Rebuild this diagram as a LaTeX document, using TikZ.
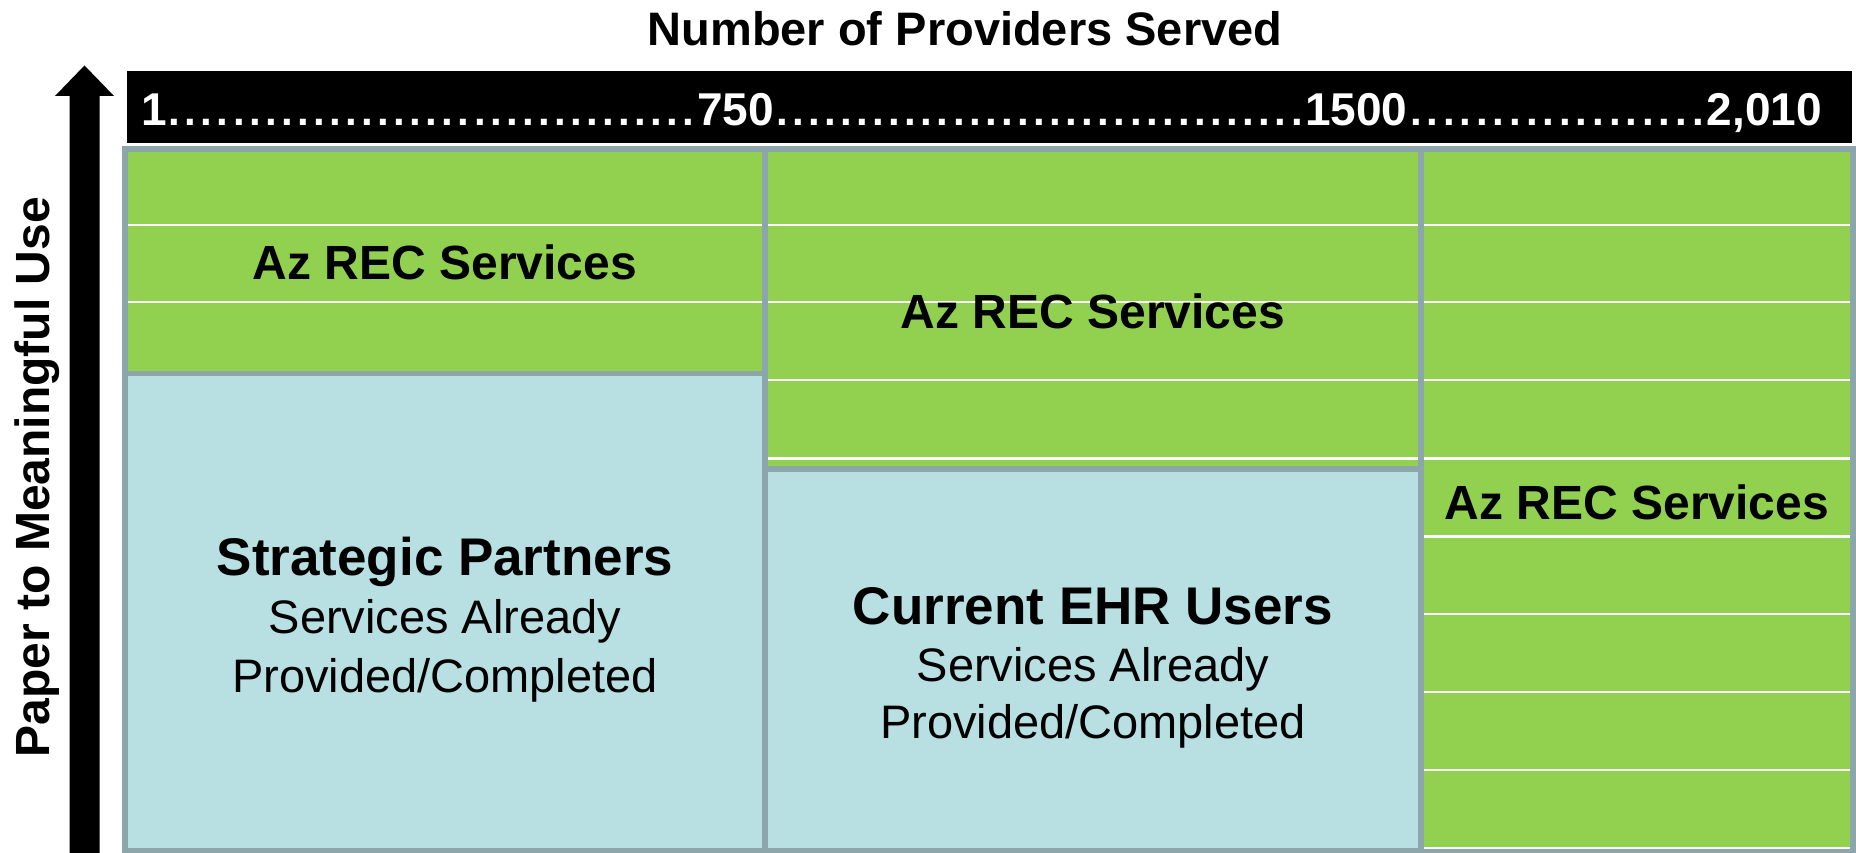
\documentclass[tikz,border=0pt]{standalone}
\usepackage{fontspec}
\setmainfont{Liberation Sans}
\definecolor{recgreen}{HTML}{92D050}
\definecolor{recblue}{HTML}{B8DFE2}
\definecolor{recgray}{HTML}{8CA6AB}
\newcommand\dotrun[1]{\hbox to #1pt{\xleaders\hbox to 16pt{\hss.\hss}\hfill}}
\begin{document}
\begin{tikzpicture}[x=1pt,y=-1pt,
  cell/.style={draw=recgray, line width=5.5pt, inner sep=0pt, outer sep=0pt, anchor=north west},
  greencell/.style={cell, fill=recgreen},
  bluecell/.style={cell, fill=recblue},
  rowline/.style={draw=white, line width=2.7pt},
  bartext/.style={font=\fontsize{46}{50}\selectfont\bfseries, text=white, inner sep=0pt, outer sep=0pt, anchor=base west},
  bardots/.style={font=\fontsize{42}{46}\selectfont\bfseries, text=white, inner sep=0pt, outer sep=0pt, anchor=base west},
  heading/.style={font=\fontsize{48}{52}\selectfont\bfseries, inner sep=0pt, anchor=base},
  bighead/.style={font=\fontsize{53}{58}\selectfont\bfseries, inner sep=0pt, anchor=base},
  plain/.style={font=\fontsize{47}{52}\selectfont, inner sep=0pt, anchor=base}
]
\useasboundingbox (0,0) rectangle (1856,853);
\fill[white] (0,0) rectangle (1856,853);

% title
\node[font=\fontsize{47}{52}\selectfont\bfseries, inner sep=0pt, anchor=base] (title) at (965,46) {Number of Providers Served};

% vertical arrow and label
\fill[black] (69.5,853) -- (69.5,96) -- (55,96) -- (84.5,65.5) -- (114,96) -- (99.5,96) -- (99.5,853) -- cycle;
\node[rotate=90, font=\fontsize{48}{52}\selectfont\bfseries, inner sep=0pt, anchor=base] (ylab) at (49,477) {Paper to Meaningful Use};

% black scale bar
\node[fill=black, minimum width=1725.5pt, minimum height=72pt, inner sep=0pt, outer sep=0pt, anchor=north west] (bar) at (126.5,71) {};
\node[bartext] (n1) at (141,126) {1};
\node[bardots] (d1) at (n1.base east) {\dotrun{530}};
\node[bartext] (n750) at (697,126) {750};
\node[bardots] (d2) at (n750.base east) {\dotrun{531}};
\node[bartext] (n1500) at (1305,126) {1500};
\node[bardots] (d3) at (n1500.base east) {\dotrun{299}};
\node[bartext, anchor=base east] (n2010) at (1822,126) {2,010};

% cells
\node[greencell, minimum width=640pt, minimum height=224.5pt] (lg) at (125,149) {};
\node[bluecell,  minimum width=640pt, minimum height=477.5pt] (lb) at (125,373.5) {};
\node[greencell, minimum width=656pt, minimum height=320pt] (mg) at (765,149) {};
\node[bluecell,  minimum width=656pt, minimum height=382pt] (mb) at (765,469) {};
\node[greencell, minimum width=432pt, minimum height=702pt] (rg) at (1421,149) {};

% white row lines
\foreach \yy in {225,302}
  \draw[rowline] (127.75,\yy) -- (762.25,\yy);
\foreach \yy in {225,302,380,458.3}
  \draw[rowline] (767.75,\yy) -- (1418.25,\yy);
\foreach \yy in {225,302,380,458.3,536.3,614,692,770,848}
  \draw[rowline] (1423.75,\yy) -- (1850.25,\yy);

% texts
\node[heading] (lgt) at (445,279.3) {Az REC Services};
\node[heading] (mgt) at (1093,328) {Az REC Services};
\node[heading] (rgt) at (1637,519.3) {Az REC Services};

\node[bighead] (lb1) at (445,575) {Strategic Partners};
\node[plain] (lb2) at (445,633) {Services Already};
\node[plain] (lb3) at (445,692) {Provided/Completed};

\node[bighead] (mb1) at (1093,624) {Current EHR Users};
\node[plain] (mb2) at (1093,681) {Services Already};
\node[plain] (mb3) at (1093,738) {Provided/Completed};
\end{tikzpicture}
\end{document}
